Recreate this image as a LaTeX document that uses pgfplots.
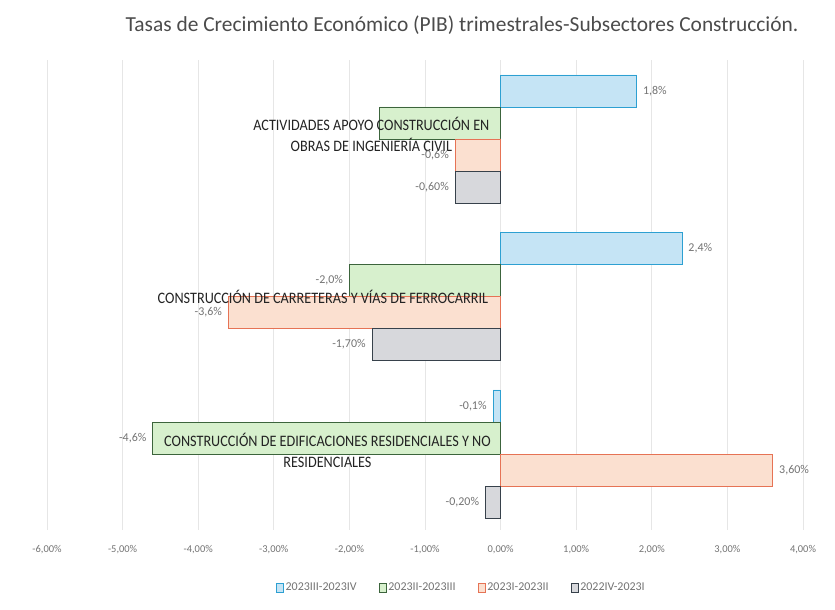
\documentclass[border=0pt]{standalone}
\usepackage{pgfplots}
\pgfplotsset{compat=1.18}
\usepackage{graphicx}
\usepackage{fontspec}
\setmainfont{Carlito}
\definecolor{bfill}{RGB}{197,228,245}
\definecolor{bdraw}{RGB}{45,160,210}
\definecolor{gfill}{RGB}{215,240,205}
\definecolor{gdraw}{RGB}{60,100,60}
\definecolor{ofill}{RGB}{251,224,208}
\definecolor{odraw}{RGB}{230,115,85}
\definecolor{yfill}{RGB}{215,216,220}
\definecolor{ydraw}{RGB}{55,65,75}
\definecolor{gridc}{RGB}{230,230,230}
\definecolor{txt}{RGB}{115,115,115}
\definecolor{cat}{RGB}{35,35,35}
\definecolor{ttl}{RGB}{75,75,75}
\begin{document}
\begin{tikzpicture}
\begin{axis}[
  at={(0,0)}, anchor=south west,
  scale only axis, width=756bp, height=470bp,
  xbar, bar width=0.2032,
  xmin=-6, xmax=4, ymin=-0.4825, ymax=2.5016,
  axis line style={draw=none},
  ytick=\empty,
  xtick={-6,-5,-4,-3,-2,-1,0,1,2,3,4},
  xticklabels={{-6,00\%},{-5,00\%},{-4,00\%},{-3,00\%},{-2,00\%},{-1,00\%},{0,00\%},{1,00\%},{2,00\%},{3,00\%},{4,00\%}},
  major tick length=0pt,
  xticklabel style={anchor=center, yshift=-20bp, font=\fontsize{10.5}{12}\selectfont, text=txt},
  xmajorgrids, major grid style={gridc, line width=0.9pt},
  nodes near coords, point meta=explicit symbolic,
  visualization depends on={rawx \as \rawx},
  every node near coord/.append style={font=\fontsize{12}{14}\selectfont, text=txt, inner sep=6bp,
    anchor={\ifdim\rawx pt<0pt east\else west\fi}},
  legend columns=4,
  legend style={at={(0.548,-0.123)}, anchor=center, draw=none, fill=none,
    font=\fontsize{12}{14}\selectfont, text=txt,
    /tikz/every even column/.append style={column sep=20bp}},
  legend image code/.code={\draw[#1, line width=0.8pt] (0bp,-4.5bp) rectangle (7bp,4.5bp);},
]
\addplot[draw=bdraw, fill=bfill, line width=0.9pt, bar shift=0.3048] coordinates {
  (-0.1,0) [-0,1\%]
  (2.4,1) [2,4\%]
  (1.8,2) [1,8\%]
};
\addplot[draw=gdraw, fill=gfill, line width=0.9pt, bar shift=0.1016] coordinates {
  (-4.6,0) [-4,6\%]
  (-2.0,1) [-2,0\%]
  (-1.6,2) []
};
\addplot[draw=odraw, fill=ofill, line width=0.9pt, bar shift=-0.1016] coordinates {
  (3.6,0) [3,60\%]
  (-3.6,1) [-3,6\%]
  (-0.6,2) [-0,6\%]
};
\addplot[draw=ydraw, fill=yfill, line width=0.9pt, bar shift=-0.3048] coordinates {
  (-0.2,0) [-0,20\%]
  (-1.7,1) [-1,70\%]
  (-0.6,2) [-0,60\%]
};
\legend{2023III-2023IV,2023II-2023III,2023I-2023II,2022IV-2023I}
\node[text=cat, inner sep=0pt] at (axis cs:-1.71,2.013) {\scalebox{0.89}[1]{\fontsize{16}{21}\selectfont\begin{tabular}{@{}c@{}}ACTIVIDADES APOYO CONSTRUCCIÓN EN\\OBRAS DE INGENIERÍA CIVIL\end{tabular}}};
\node[text=cat, inner sep=0pt] at (axis cs:-2.35,1.0) {\scalebox{0.89}[1]{\fontsize{16}{21}\selectfont CONSTRUCCIÓN DE CARRETERAS Y VÍAS DE FERROCARRIL}};
\node[text=cat, inner sep=0pt] at (axis cs:-2.29,0.01) {\scalebox{0.89}[1]{\fontsize{16}{21}\selectfont\begin{tabular}{@{}c@{}}CONSTRUCCIÓN DE EDIFICACIONES RESIDENCIALES Y NO\\RESIDENCIALES\end{tabular}}};
\end{axis}
\node[text=ttl, inner sep=0pt] at (415bp,505bp) {\fontsize{21.5}{25}\selectfont Tasas de Crecimiento Económico (PIB) trimestrales-Subsectores Construcción.};
\pgfresetboundingbox
\path[use as bounding box] (-47bp,-80bp) rectangle (788bp,530bp);
\end{tikzpicture}
\end{document}
